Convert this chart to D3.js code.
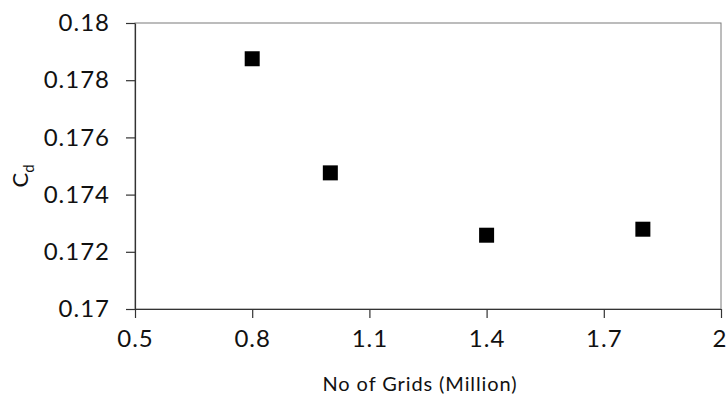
<!DOCTYPE html>
<html>
<head>
<meta charset="utf-8">
<script src="https://cdn.jsdelivr.net/npm/d3@7"></script>
<style>
  html, body { margin: 0; padding: 0; background: #fff; }
  svg { display: block; font-family: Lato, "Open Sans", sans-serif; }
</style>
</head>
<body>
<svg id="chart" width="727" height="405"></svg>
<script>
// Drag coefficient against mesh size
const gridsMillion = [0.8, 1.0, 1.4, 1.8];
const cdValues = [0.17875, 0.17476, 0.17258, 0.17279];
const xTicks = [0.5, 0.8, 1.1, 1.4, 1.7, 2];
const yTicks = [0.17, 0.172, 0.174, 0.176, 0.178, 0.18];
const xTickLabels = ["0.5", "0.8", "1.1", "1.4", "1.7", "2"];
const yTickLabels = ["0.17", "0.172", "0.174", "0.176", "0.178", "0.18"];

const svg = d3.select("#chart");
const margin = { left: 135, right: 6, top: 23, bottom: 96 };
const W = 727, H = 405;

const x = d3.scaleLinear().domain([0.5, 2]).range([margin.left, W - margin.right]);
const y = d3.scaleLinear().domain([0.17, 0.18]).range([H - margin.bottom, margin.top]);

// plot frame
svg.append("rect")
  .attr("x", x(0.5)).attr("y", y(0.18))
  .attr("width", x(2) - x(0.5)).attr("height", y(0.17) - y(0.18))
  .attr("fill", "none").attr("stroke", "#7a7a7a").attr("stroke-width", 1);

const xAxis = d3.axisBottom(x).tickValues(xTicks)
  .tickFormat((d, i) => xTickLabels[i]).tickSizeInner(9).tickSizeOuter(0).tickPadding(12);
const yAxis = d3.axisLeft(y).tickValues(yTicks)
  .tickFormat((d, i) => yTickLabels[i]).tickSizeInner(9).tickSizeOuter(0).tickPadding(16);

const gx = svg.append("g").attr("transform", `translate(0,${y(0.17)})`).call(xAxis);
const gy = svg.append("g").attr("transform", `translate(${x(0.5)},0)`).call(yAxis);

[gx, gy].forEach(g => {
  g.selectAll("path.domain").attr("stroke", "#333").attr("stroke-width", 1.2);
  g.selectAll(".tick line").attr("stroke", "#333").attr("stroke-width", 1.2);
  g.selectAll(".tick text").attr("fill", "#111").style("font-size", "24px")
    .style("letter-spacing", "1px")
    .style("font-family", "Lato, 'Open Sans', sans-serif");
});

// keep the last x label inside the canvas edge
gx.selectAll(".tick text").filter(d => d === 2)
  .style("letter-spacing", "0px")
  .attr("text-anchor", "end")
  .attr("x", W - 1 - x(2));

// data markers
const size = 15;
svg.append("g").selectAll("rect.pt")
  .data(gridsMillion.map((g, i) => ({ g, cd: cdValues[i] })))
  .join("rect")
  .attr("class", "pt")
  .attr("x", d => x(d.g) - size / 2)
  .attr("y", d => y(d.cd) - size / 2)
  .attr("width", size).attr("height", size)
  .attr("fill", "#000");

// axis titles
svg.append("text")
  .attr("x", 420).attr("y", 391)
  .attr("text-anchor", "middle")
  .attr("fill", "#111")
  .style("font-size", "20px")
  .style("letter-spacing", "0.9px")
  .text("No of Grids (Million)");

const yt = svg.append("text")
  .attr("transform", "translate(28,176) rotate(-90)")
  .attr("text-anchor", "middle")
  .attr("fill", "#111")
  .style("font-size", "22px");
yt.append("tspan").text("C");
yt.append("tspan").attr("dy", 6).style("font-size", "15px").text("d");
</script>
</body>
</html>
